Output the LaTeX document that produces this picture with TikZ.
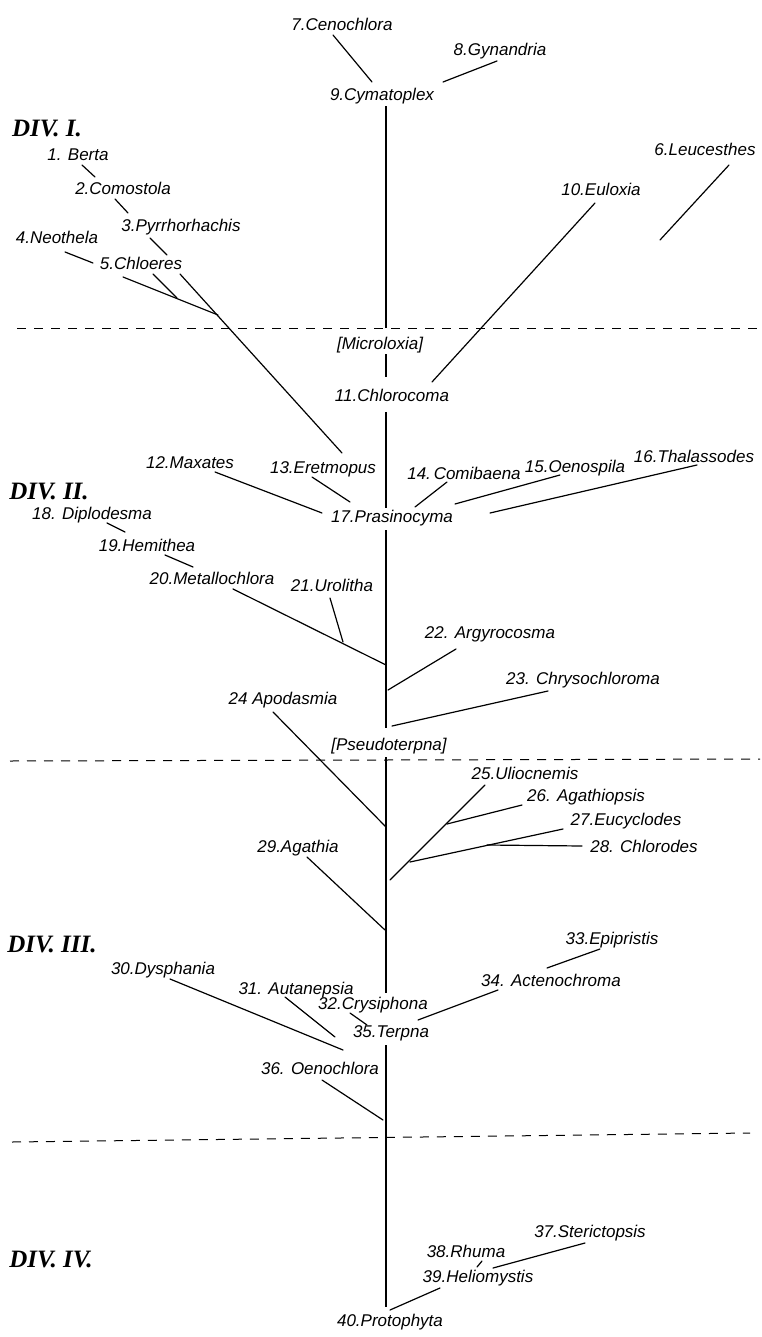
\documentclass[tikz,border=0pt]{standalone}
\usepackage{fontspec}
\setmainfont{Liberation Sans}
\newfontfamily\divfont{Liberation Serif}
\usepackage{tikz}
\usetikzlibrary{calc}
\tikzset{
  taxon/.style={font=\fontsize{17}{17}\selectfont\itshape,inner sep=1.5pt,anchor=base},
  division/.style={font=\fontsize{25}{25}\selectfont\divfont\bfseries\itshape,inner sep=0pt,anchor=base},
  branch/.style={line width=1.2pt,line cap=round},
  stem/.style={line width=1.7pt},
  divline/.style={line width=1pt,dash pattern=on 9pt off 8pt}
}
\newcommand{\taxon}[3]{\node[taxon] (#1) at #2 {#3};}
\newcommand{\seg}[3]{\coordinate (#1a) at #2; \coordinate (#1b) at #3; \draw[branch] (#1a) -- (#1b);}

\begin{document}
\begin{tikzpicture}[x=1pt,y=-1pt]
\useasboundingbox (0,0) rectangle (761,1337);
\coordinate (stem) at (386,0);
\node[division] (div1) at (47,137) {DIV. I.};
\node[division] (div2) at (49,499) {DIV. II.};
\node[division] (div3) at (52,952) {DIV. III.};
\node[division] (div4) at (51,1267) {DIV. IV.};
\taxon{n1}{(78,161)}{1. Berta} \taxon{n2}{(123,195)}{2.Comostola} \taxon{n3}{(181,232)}{3.Pyrrhorhachis}
\taxon{n4}{(57,244)}{4.Neothela} \taxon{n5}{(141,270)}{5.Chloeres} \taxon{n6}{(705,156)}{6.Leucesthes}
\taxon{n7}{(342,31)}{7.Cenochlora} \taxon{n8}{(500,56)}{8.Gynandria} \taxon{n9}{(382,101)}{9.Cymatoplex}
\taxon{n10}{(601,196)}{10.Euloxia} \taxon{mic}{(380,349)}{[Microloxia]} \taxon{n11}{(392,401)}{11.Chlorocoma}
\taxon{n12}{(190,468)}{12.Maxates} \taxon{n13}{(323,473)}{13.Eretmopus} \taxon{n14}{(464,479)}{14.\,Comibaena}
\taxon{n15}{(575,472)}{15.Oenospila} \taxon{n16}{(694,462)}{16.Thalassodes} \taxon{n17}{(392,522)}{17.Prasinocyma}
\taxon{n18}{(92,519)}{18. Diplodesma} \taxon{n19}{(147,551)}{19.Hemithea} \taxon{n20}{(212,584)}{20.Metallochlora}
\taxon{n21}{(332,591)}{21.Urolitha} \taxon{n22}{(490,638)}{22. Argyrocosma} \taxon{n23}{(583,684)}{23. Chrysochloroma}
\taxon{n24}{(283,704)}{24 Apodasmia} \taxon{pse}{(389,750)}{[Pseudoterpna]}
\taxon{n25}{(525,779)}{25.Uliocnemis} \taxon{n26}{(586,801)}{26. Agathiopsis} \taxon{n27}{(626,825)}{27.Eucyclodes}
\taxon{n28}{(644,852)}{28. Chlorodes} \taxon{n29}{(298,852)}{29.Agathia} \taxon{n30}{(163,974)}{30.Dysphania}
\taxon{n31}{(296,994)}{31. Autanepsia} \taxon{n32}{(373,1009)}{32.Crysiphona} \taxon{n33}{(612,944)}{33.Epipristis}
\taxon{n34}{(551,986)}{34. Actenochroma} \taxon{n35}{(391,1037)}{35.Terpna} \taxon{n36}{(320,1074)}{36. Oenochlora}
\taxon{n37}{(590,1237)}{37.Sterictopsis} \taxon{n38}{(466,1257)}{38.Rhuma} \taxon{n39}{(478,1282)}{39.Heliomystis}
\taxon{n40}{(390,1326)}{40.Protophyta}
% main stem
\draw[stem,shorten >=7pt] (n9.south -| stem) -- (mic.north -| stem);
\draw[stem,shorten >=10pt] (mic.south -| stem) -- (n11.north -| stem);
\draw[stem,shorten <=9pt] (n11.south -| stem) -- (n17.north -| stem);
\draw[stem,shorten <=3pt,shorten >=8pt] (n17.south -| stem) -- (pse.north -| stem);
\draw[stem,shorten <=2pt,shorten >=2pt] (pse.south -| stem) -- (n32.north -| stem);
\draw[stem,shorten <=3pt,shorten >=5pt] (n35.south -| stem) -- (n40.north -| stem);
% division lines
\coordinate (d1w) at (17,328); \coordinate (d1e) at (758,328);
\coordinate (d2w) at (10,761); \coordinate (d2e) at (760,759);
\coordinate (d3w) at (12,1142); \coordinate (d3e) at (750,1133);
\draw[divline] (d1w) -- (d1e); \draw[divline] (d2w) -- (d2e); \draw[divline] (d3w) -- (d3e);
% branches
\seg{l7}{(333,35)}{(372,82)} \seg{l8}{(497,61)}{(443,82)}
\seg{l1}{(82,165)}{(95,177)} \seg{l2}{(115,199)}{(128,213)} \seg{l3}{(150,238)}{(167,255)}
\seg{l4}{(65,252)}{(93,263)} \seg{l5}{(123,277)}{(218,315)} \seg{l5s}{(153,274)}{(177,298)}
\seg{l3x}{(180,274)}{(342,453)} \seg{l10}{(595,203)}{(432,382)} \seg{l6}{(729,165)}{(660,240)}
\seg{l12}{(215,472)}{(322,513)} \seg{l13}{(312,477)}{(350,502)} \seg{l14}{(447,482)}{(415,507)}
\seg{l15}{(560,475)}{(455,504)} \seg{l16}{(697,465)}{(490,513)}
\seg{l18}{(107,523)}{(125,532)} \seg{l19}{(165,555)}{(193,567)} \seg{l20}{(233,589)}{(386,665)}
\seg{l21}{(330,598)}{(343,642)} \seg{l22}{(456,649)}{(388,690)} \seg{l23}{(548,691)}{(392,726)}
\seg{l24}{(273,712)}{(386,827)} \seg{l25}{(485,785)}{(390,880)} \seg{l26}{(522,805)}{(447,824)}
\seg{l27}{(563,829)}{(410,862)} \seg{l28}{(582,846)}{(487,845)} \seg{l29}{(307,857)}{(385,930)}
\seg{l30}{(170,979)}{(343,1050)} \seg{l31}{(285,997)}{(335,1037)} \seg{l32}{(350,1013)}{(367,1025)}
\seg{l33}{(600,949)}{(547,968)} \seg{l34}{(498,990)}{(418,1020)} \seg{l36}{(322,1080)}{(383,1120)}
\seg{l37}{(585,1243)}{(493,1268)} \seg{l38}{(482,1261)}{(477,1267)} \seg{l39}{(440,1288)}{(390,1310)}
\end{tikzpicture}
\end{document}
